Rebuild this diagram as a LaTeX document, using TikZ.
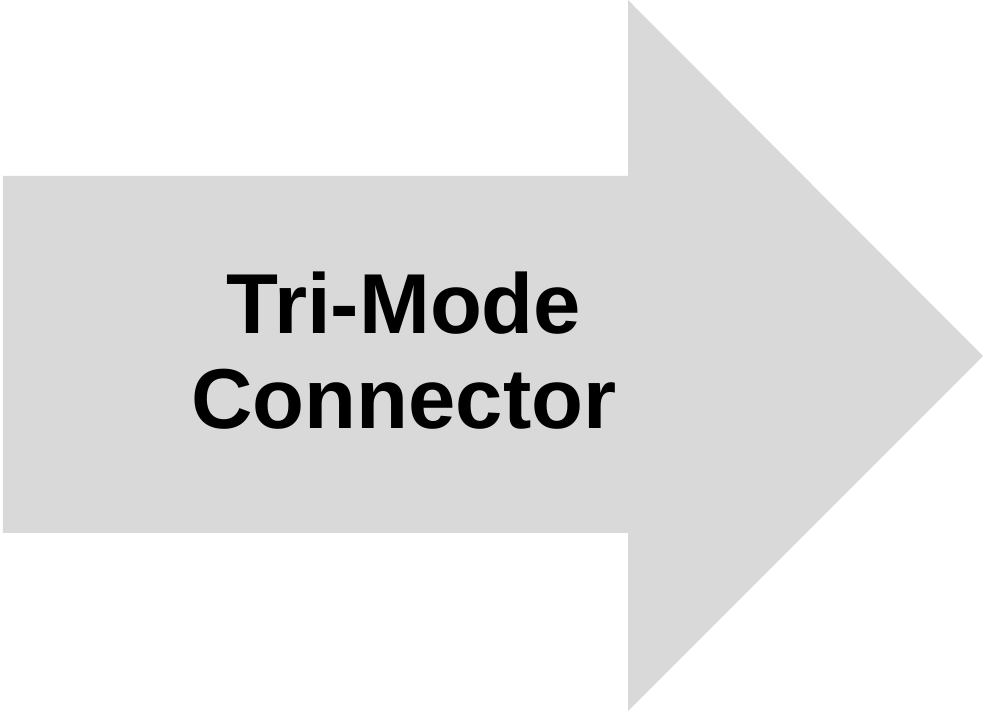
\documentclass[tikz,border=0pt]{standalone}
\usepackage{fontspec}
\setmainfont{Liberation Sans}
\usepackage{xcolor}
\definecolor{arrowgray}{RGB}{217,217,217}
\usetikzlibrary{positioning}

\begin{document}
\begin{tikzpicture}[
  bigarrow/.style={fill=arrowgray, draw=none},
  lbl/.style={font=\fontsize{24.2}{27}\selectfont\bfseries, text=black, align=center}
]
\useasboundingbox (0,0) rectangle (9.84,7.13);
% arrow
\fill[bigarrow] (0.03,5.37) -- (6.28,5.37) -- (6.28,7.13) -- (9.83,3.57)
  -- (6.28,0.02) -- (6.28,1.80) -- (0.03,1.80) -- cycle;
% label
\node[lbl] (conn) at (4.04,3.62) {Tri-Mode\\Connector};
\end{tikzpicture}
\end{document}
